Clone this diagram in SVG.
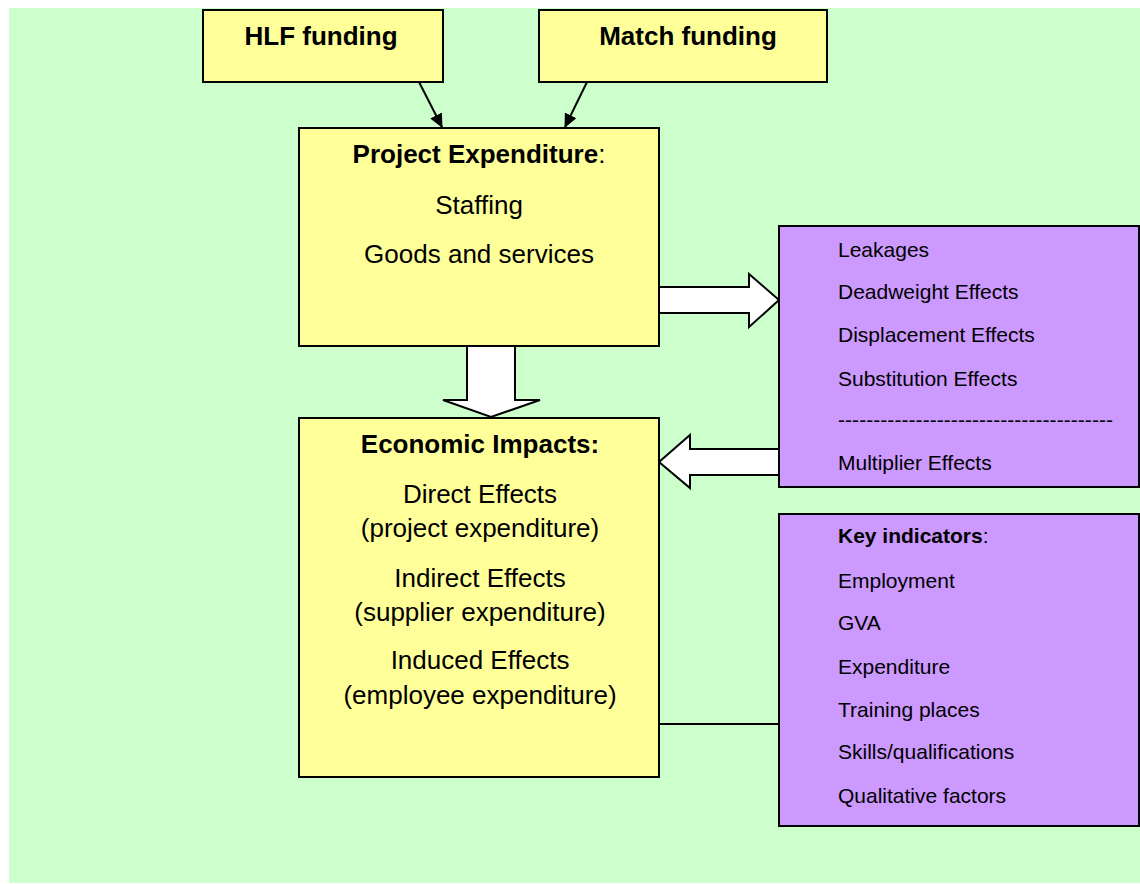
<svg xmlns="http://www.w3.org/2000/svg" width="1140" height="884" viewBox="0 0 1140 884">
  <style>
    .box { stroke: #000; stroke-width: 2; }
    .yellow { fill: #FFFF99; }
    .purple { fill: #CC99FF; }
    .big { font-family: "Liberation Sans", Arial, sans-serif; font-size: 26px; fill: #000; text-anchor: middle; }
    .small { font-family: "Liberation Sans", Arial, sans-serif; font-size: 21px; fill: #000; }
    .b { font-weight: bold; }
    .block { fill: #fff; stroke: #000; stroke-width: 2; stroke-linejoin: miter; }
    .thin { stroke: #000; stroke-width: 2; fill: none; }
  </style>
  <defs>
    <marker id="head" markerWidth="14" markerHeight="13" refX="13" refY="6.5" orient="auto" markerUnits="userSpaceOnUse" viewBox="0 0 14 13">
      <path d="M0,0 L14,6.5 L0,13 Z" fill="#000"/>
    </marker>
  </defs>

  <!-- page background -->
  <rect x="0" y="0" width="1140" height="884" fill="#fff"/>
  <rect x="9" y="8" width="1131" height="875" fill="#CCFFCC"/>

  <!-- connectors -->
  <g id="connectors">
    <line class="thin" x1="419" y1="82" x2="442" y2="127" marker-end="url(#head)"/>
    <line class="thin" x1="587" y1="82" x2="565" y2="127" marker-end="url(#head)"/>
    <!-- block arrow: expenditure down to impacts -->
    <path class="block" d="M467,346 L515,346 L515,400 L540,400 L491,417 L443,400 L467,400 Z"/>
    <!-- block arrow: expenditure to adjustments -->
    <path class="block" d="M659,287 L749,287 L749,274 L779,300 L749,327 L749,313 L659,313 Z"/>
    <!-- block arrow: multiplier back to impacts -->
    <path class="block" d="M779,449 L690,449 L690,435 L659,462 L690,488 L690,475 L779,475 Z"/>
    <!-- link to key indicators -->
    <line class="thin" x1="659" y1="724" x2="779" y2="724"/>
  </g>

  <g id="hlf-funding">
    <rect class="box yellow" x="203" y="10" width="240" height="72"/>
    <text class="big b" x="321" y="45">HLF funding</text>
  </g>

  <g id="match-funding">
    <rect class="box yellow" x="539" y="10" width="288" height="72"/>
    <text class="big b" x="688" y="45">Match funding</text>
  </g>

  <g id="project-expenditure">
    <rect class="box yellow" x="299" y="128" width="360" height="218"/>
    <text class="big" x="479" y="163"><tspan class="b">Project Expenditure</tspan>:</text>
    <text class="big" x="479" y="214">Staffing</text>
    <text class="big" x="479" y="263">Goods and services</text>
  </g>

  <g id="economic-impacts">
    <rect class="box yellow" x="299" y="418" width="360" height="359"/>
    <text class="big b" x="480" y="453">Economic Impacts:</text>
    <text class="big" x="480" y="503">Direct Effects</text>
    <text class="big" x="480" y="537">(project expenditure)</text>
    <text class="big" x="480" y="587">Indirect Effects</text>
    <text class="big" x="480" y="621">(supplier expenditure)</text>
    <text class="big" x="480" y="669">Induced Effects</text>
    <text class="big" x="480" y="704">(employee expenditure)</text>
  </g>

  <g id="adjustments">
    <rect class="box purple" x="779" y="226" width="360" height="261"/>
    <text class="small" x="838" y="257">Leakages</text>
    <text class="small" x="838" y="299">Deadweight Effects</text>
    <text class="small" x="838" y="342">Displacement Effects</text>
    <text class="small" x="838" y="386">Substitution Effects</text>
    <text class="small" x="838" y="427" textLength="275" lengthAdjust="spacing">---------------------------------------</text>
    <text class="small" x="838" y="470">Multiplier Effects</text>
  </g>

  <g id="key-indicators">
    <rect class="box purple" x="779" y="514" width="360" height="312"/>
    <text class="small" x="838" y="543"><tspan class="b">Key indicators</tspan>:</text>
    <text class="small" x="838" y="588">Employment</text>
    <text class="small" x="838" y="630">GVA</text>
    <text class="small" x="838" y="674">Expenditure</text>
    <text class="small" x="838" y="717">Training places</text>
    <text class="small" x="838" y="759">Skills/qualifications</text>
    <text class="small" x="838" y="803">Qualitative factors</text>
  </g>
</svg>
